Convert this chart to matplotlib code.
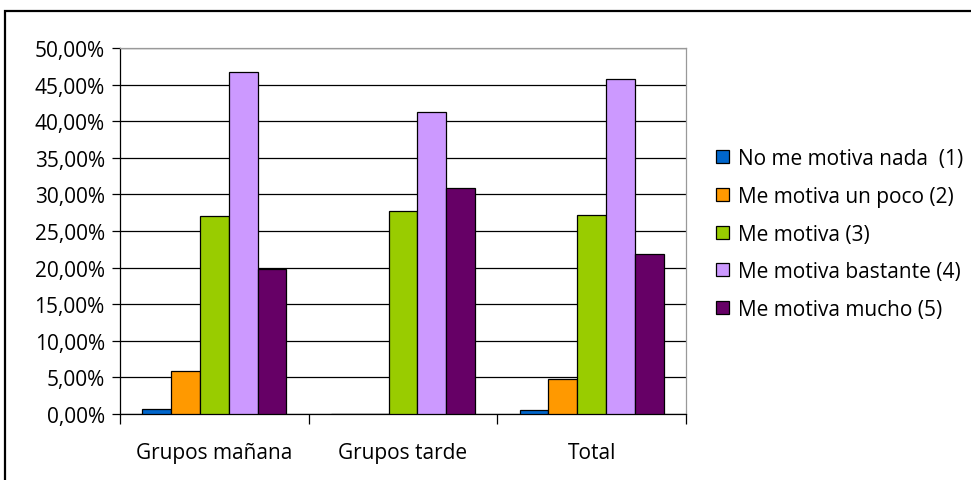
import numpy as np
import matplotlib.pyplot as plt
from matplotlib.patches import Rectangle
from matplotlib.ticker import FuncFormatter, MultipleLocator

plt.rcParams['font.family'] = ['Open Sans', 'DejaVu Sans']

# Data (percent)
groups = ["Grupos mañana", "Grupos tarde", "Total"]
series = ["No me motiva nada  (1)", "Me motiva un poco (2)", "Me motiva (3)",
          "Me motiva bastante (4)", "Me motiva mucho (5)"]
nada = [0.7, 0.0, 0.55]
poco = [5.9, 0.0, 4.8]
motiva = [27.0, 27.7, 27.2]
bastante = [46.7, 41.3, 45.8]
mucho = [19.8, 30.9, 21.8]
colors = ["#0066CC", "#FF9900", "#99CC00", "#CC99FF", "#660066"]

values = [nada, poco, motiva, bastante, mucho]

fig = plt.figure(figsize=(9.71, 4.81), dpi=100)
ax = fig.add_axes([120 / 971, 1 - 415 / 481, 566 / 971, 366 / 481])

# outer frame (only top/left visible in the crop)
fig.patches.append(Rectangle((5 / 971, -0.2), 1.2, 1.2 - 12 / 481,
                             transform=fig.transFigure, fill=False,
                             edgecolor="black", linewidth=1.6))

x = np.arange(len(groups))
width = 0.153
for i, (vals, c, name) in enumerate(zip(values, colors, series)):
    ax.bar(x + (i - 2) * width, vals, width, color=c, edgecolor="black",
           linewidth=0.9, label=name, zorder=3)

ax.set_xlim(-0.5, 2.5)
ax.set_ylim(0, 50)
ax.yaxis.set_major_locator(MultipleLocator(5))
ax.yaxis.set_major_formatter(FuncFormatter(lambda v, p: f"{v:.2f}".replace(".", ",") + "%"))
ax.grid(axis="y", color="black", linewidth=0.9, zorder=0)

ax.set_xticks(x)
ax.set_xticklabels(groups)
ax.set_xticks([-0.5, 0.5, 1.5, 2.5], minor=True)
ax.tick_params(axis="x", which="major", length=0, pad=20, labelsize=15)
ax.tick_params(axis="x", which="minor", length=7, width=0.9, direction="out")
ax.tick_params(axis="y", length=6, width=0.9, direction="out", labelsize=15, pad=5)

for s in ["top", "right"]:
    ax.spines[s].set_color("#999999")
    ax.spines[s].set_linewidth(0.9)
for s in ["left", "bottom"]:
    ax.spines[s].set_color("black")
    ax.spines[s].set_linewidth(0.9)

fig.legend(loc="center left", bbox_to_anchor=(708 / 971, 1 - 235 / 481),
           frameon=False, fontsize=15, handlelength=0.6, handleheight=0.6,
           handletextpad=0.45, labelspacing=0.8, borderaxespad=0)

fig.savefig("out.png", dpi=100)
